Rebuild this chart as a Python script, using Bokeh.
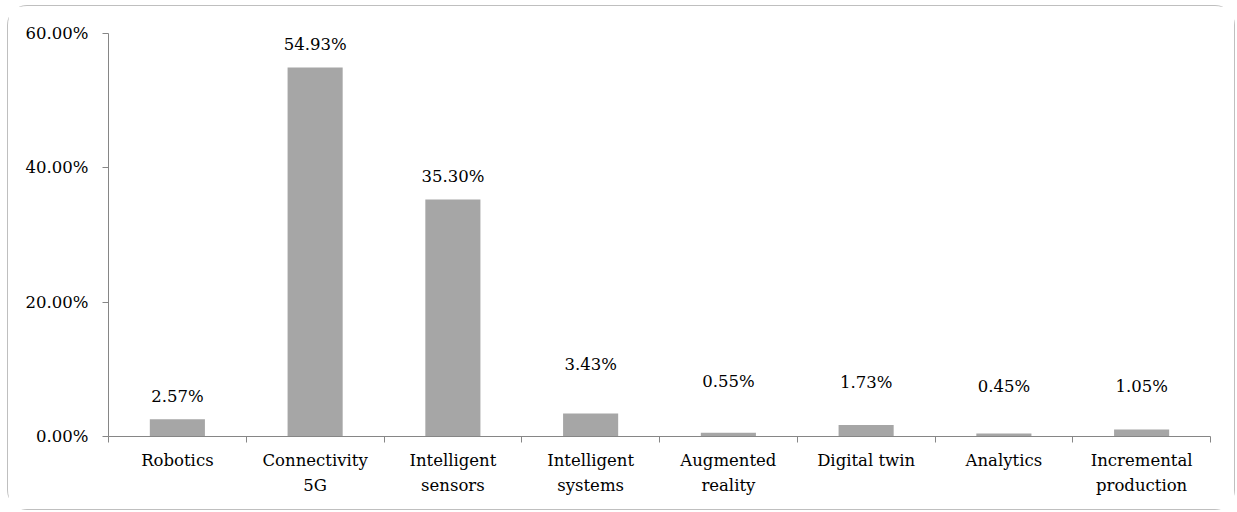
from bokeh.plotting import figure
from bokeh.models import (FixedTicker, PrintfTickFormatter, ColumnDataSource,
                          Range1d)
from bokeh.core.properties import value
from bokeh.embed import file_html
from bokeh.resources import INLINE

# ---- data ----
categories = ["Robotics", "Connectivity\n5G", "Intelligent\nsensors",
              "Intelligent\nsystems", "Augmented\nreality", "Digital twin",
              "Analytics", "Incremental\nproduction"]
shares = [2.57, 54.93, 35.30, 3.43, 0.55, 1.73, 0.45, 1.05]   # percent
value_labels = ["2.57%", "54.93%", "35.30%", "3.43%", "0.55%", "1.73%",
                "0.45%", "1.05%"]
y_tick_values = [0, 20, 40, 60]

# ---- style (label lift above bar top, in pixels) ----
label_lift_px = [23, 23, 23, 49, 51, 42, 47, 43]

FONT = "DejaVu Serif"
FONT_SIZE = "16.5px"
AXIS_COLOR = "#868686"
BAR_COLOR = "#a6a6a6"

n = len(categories)
centers = [i + 0.5 for i in range(n)]

p = figure(width=1228, height=505, output_backend="svg", toolbar_location=None,
           x_range=Range1d(0, n), y_range=Range1d(0, 60),
           min_border_left=100, min_border_right=26,
           min_border_top=27, min_border_bottom=75,
           background_fill_color="white", border_fill_color="white",
           outline_line_color=None)
p.styles = {"border": "1px solid #bfbfbf", "border-radius": "20px",
            "margin-left": "7px", "margin-top": "5px"}
p.xgrid.visible = False
p.ygrid.visible = False

src = ColumnDataSource(dict(x=centers, top=shares, label=value_labels,
                            off=[-v for v in label_lift_px]))

p.vbar(x="x", top="top", width=0.4, source=src, fill_color=BAR_COLOR,
       line_color=None)
p.text(x="x", y="top", text="label", y_offset="off", source=src,
       text_align="center", text_baseline="middle",
       text_font=value(FONT), text_font_size=FONT_SIZE, text_color="black")

# x axis: labels at category centres, tick marks between categories
xa = p.xaxis[0]
xa.ticker = FixedTicker(ticks=centers, minor_ticks=list(range(n + 1)))
xa.major_label_overrides = {c: lab for c, lab in zip(centers, categories)}
xa.major_tick_line_color = None
xa.minor_tick_line_color = AXIS_COLOR
xa.minor_tick_out = 6
xa.minor_tick_in = 0
xa.axis_line_color = AXIS_COLOR
xa.major_label_text_font = FONT
xa.major_label_text_font_size = FONT_SIZE
xa.major_label_text_line_height = 1.34
xa.major_label_text_color = "black"
xa.major_label_standoff = 8

ya = p.yaxis[0]
ya.ticker = FixedTicker(ticks=y_tick_values)
ya.formatter = PrintfTickFormatter(format="%.2f%%")
ya.major_tick_line_color = AXIS_COLOR
ya.major_tick_out = 6
ya.major_tick_in = 0
ya.minor_tick_line_color = None
ya.axis_line_color = AXIS_COLOR
ya.major_label_text_font = FONT
ya.major_label_text_font_size = FONT_SIZE
ya.major_label_text_color = "black"
ya.major_label_standoff = 14

open("out.html", "w").write(file_html(p, INLINE))
